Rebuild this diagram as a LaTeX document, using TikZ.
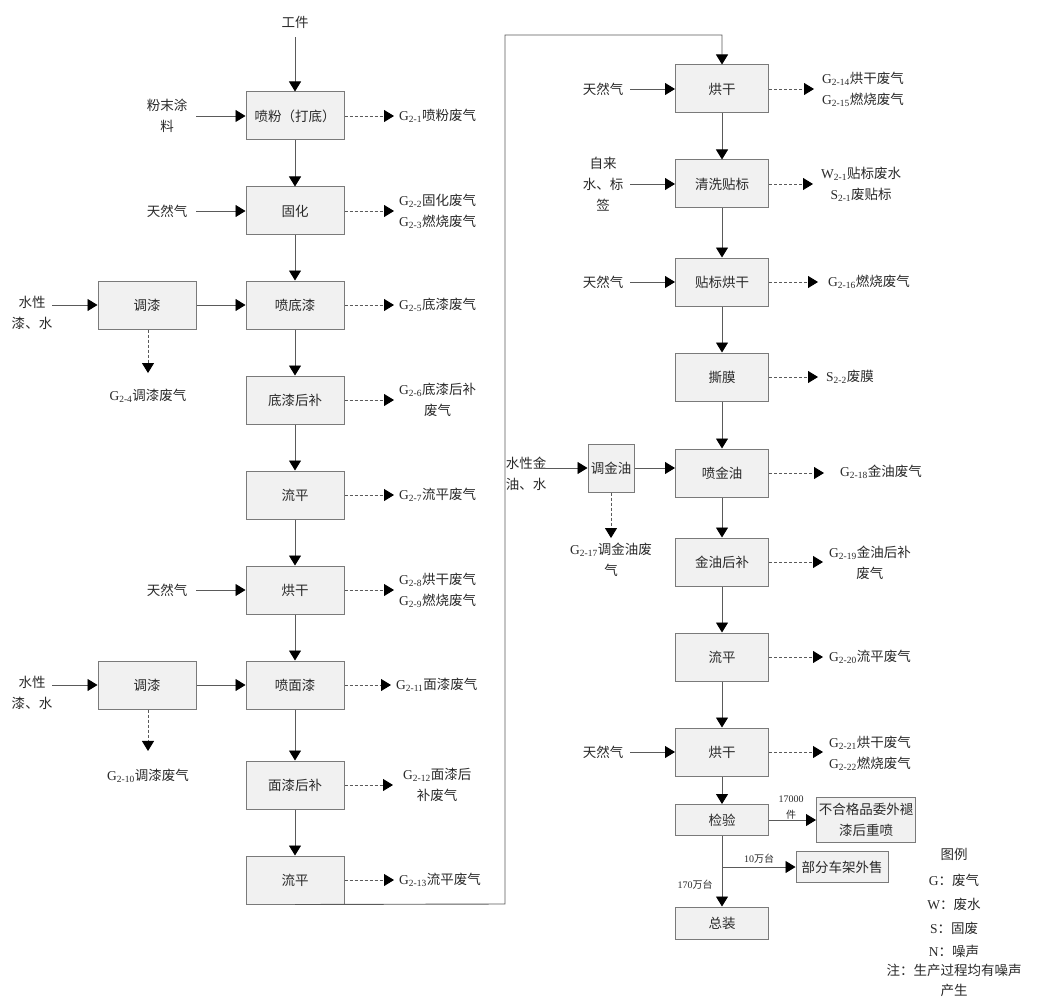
\documentclass[tikz,border=0pt]{standalone}
\usepackage{fontspec}
\setmainfont{Liberation Serif}
\newfontfamily\cjk{Noto Sans CJK SC}
\usetikzlibrary{arrows.meta}
\definecolor{boxfill}{HTML}{F1F1F1}
\definecolor{boxline}{HTML}{7A7A7A}
\definecolor{lin}{HTML}{5A5A5A}
\definecolor{txt}{HTML}{2A2A2A}
\newcommand\pol[2]{{\rmfamily #1\textsubscript{#2}}}
\begin{document}
\begin{tikzpicture}[x=1pt,y=-1pt,
 every node/.style={font=\fontsize{13.5}{21}\selectfont\cjk, text=txt},
 box/.style={draw=boxline, fill=boxfill, line width=1pt, minimum width=98pt, minimum height=48pt, inner sep=0pt, align=center},
 rbox/.style={box, minimum width=93pt},
 lbl/.style={inner sep=0pt, align=center},
 small/.style={lbl, font=\fontsize{10}{16}\selectfont\cjk},
 flow/.style={draw=lin, line width=0.9pt, -{Triangle[length=10pt,width=12pt,color=black]}},
 inflow/.style={flow, shorten <=9pt},
 dflow/.style={flow, dash pattern=on 3pt off 2pt, shorten >=5pt},
]
\useasboundingbox[fill=white] (0,0) rectangle (1059,1000);

% ---------- left column ----------
\node[lbl] (wp) at (295,22) {工件};
\node[box] (n1) at (295,116) {喷粉（打底）};
\node[box] (n2) at (295,211) {固化};
\node[box] (n3) at (295,305) {喷底漆};
\node[box] (n4) at (295,400) {底漆后补};
\node[box] (n5) at (295,495) {流平};
\node[box] (n6) at (295,590) {烘干};
\node[box] (n7) at (295,685) {喷面漆};
\node[box] (n8) at (295,785) {面漆后补};
\node[box] (n9) at (295,880) {流平};

\draw[flow, shorten <=9pt] (wp) -- (n1);
\foreach \a/\b in {n1/n2,n2/n3,n3/n4,n4/n5,n5/n6,n6/n7,n7/n8,n8/n9}
  \draw[flow] (\a) -- (\b);

% inputs left
\node[lbl] (i1) at (167,116) {粉末涂\\料};
\node[lbl] (i2) at (167,211) {天然气};
\node[lbl] (i3) at (32,313) {水性\\漆、水};
\node[box] (t1) at (147,305) {调漆};
\node[lbl] (g4) at (148,396) {\pol{G}{2-4}调漆废气};
\node[lbl] (i4) at (167,590) {天然气};
\node[lbl] (i5) at (32,693) {水性\\漆、水};
\node[box] (t2) at (147,685) {调漆};
\node[lbl] (g10) at (148,776) {\pol{G}{2-10}调漆废气};

\draw[inflow] (i1) -- (n1);
\draw[inflow] (i2) -- (n2);
\draw[flow] (i3.east |- t1) -- (t1);
\draw[flow] (t1) -- (n3);
\draw[dflow, shorten >=16pt] (t1.south -| g4) -- (g4);
\draw[inflow] (i4) -- (n6);
\draw[flow] (i5.east |- t2) -- (t2);
\draw[flow] (t2) -- (n7);
\draw[dflow, shorten >=18pt] (t2.south -| g10) -- (g10);

% outputs left
\node[lbl, anchor=west] (o1) at (399,116) {\pol{G}{2-1}喷粉废气};
\node[lbl, anchor=west] (o2) at (399,211) {\pol{G}{2-2}固化废气\\\pol{G}{2-3}燃烧废气};
\node[lbl, anchor=west] (o3) at (399,305) {\pol{G}{2-5}底漆废气};
\node[lbl, anchor=west] (o4) at (399,400) {\pol{G}{2-6}底漆后补\\废气};
\node[lbl, anchor=west] (o5) at (399,495) {\pol{G}{2-7}流平废气};
\node[lbl, anchor=west] (o6) at (399,590) {\pol{G}{2-8}烘干废气\\\pol{G}{2-9}燃烧废气};
\node[lbl, anchor=west] (o7) at (396,685) {\pol{G}{2-11}面漆废气};
\node[lbl, anchor=west] (o8) at (403,785) {\pol{G}{2-12}面漆后\\补废气};
\node[lbl, anchor=west] (o9) at (399,880) {\pol{G}{2-13}流平废气};
\foreach \a/\b in {n1/o1,n2/o2,n3/o3,n4/o4,n5/o5,n6/o6,n7/o7,n9/o9}
  \draw[dflow] (\a) -- (\b);
\draw[dflow, shorten >=10pt] (n8) -- (o8);

% ---------- loop ----------
\coordinate (lpA) at (505,904);
\coordinate (lpB) at (505,35);

% ---------- right column ----------
\node[rbox] (r1) at (722,89) {烘干};
\node[rbox] (r2) at (722,184) {清洗贴标};
\node[rbox] (r3) at (722,282) {贴标烘干};
\node[rbox] (r4) at (722,377) {撕膜};
\node[rbox] (r5) at (722,473) {喷金油};
\node[rbox] (r6) at (722,562) {金油后补};
\node[rbox] (r7) at (722,657) {流平};
\node[rbox] (r8) at (722,752) {烘干};
\node[rbox, minimum height=31pt] (r9) at (722,820) {检验};
\node[rbox, minimum height=32pt] (r10) at (722,923) {总装};

\draw[flow] (n9.south) -- (lpA) -- (lpB) -| (r1.north);
\foreach \a/\b in {r1/r2,r2/r3,r3/r4,r4/r5,r5/r6,r6/r7,r7/r8,r8/r9,r9/r10}
  \draw[flow] (\a) -- (\b);

% inputs right
\node[lbl] (j1) at (603,89) {天然气};
\node[lbl] (j2) at (603,184) {自来\\水、标\\签};
\node[lbl] (j3) at (603,282) {天然气};
\node[lbl] (j8) at (603,752) {天然气};
\draw[flow, shorten <=7pt] (j1) -- (r1);
\draw[flow, shorten <=7pt] (j2) -- (r2);
\draw[flow, shorten <=7pt] (j3) -- (r3);
\draw[flow, shorten <=7pt] (j8) -- (r8);

\node[lbl] (jin) at (526,474) {水性金\\油、水};
\node[box, minimum width=46pt] (tj) at (611,468) {调金油};
\node[lbl] (g17) at (611,560) {\pol{G}{2-17}调金油废\\气};
\draw[flow, shorten <=-6pt] (jin.east |- tj) -- (tj);
\draw[flow] (tj) -- (tj -| r5.west);
\draw[dflow, shorten >=5pt] (tj) -- (g17);

% outputs right
\node[lbl, anchor=west] (p1) at (822,89) {\pol{G}{2-14}烘干废气\\\pol{G}{2-15}燃烧废气};
\node[lbl, anchor=west] (p2) at (821,184) {\pol{W}{2-1}贴标废水\\\pol{S}{2-1}废贴标};
\node[lbl, anchor=west] (p3) at (828,282) {\pol{G}{2-16}燃烧废气};
\node[lbl, anchor=west] (p4) at (826,377) {\pol{S}{2-2}废膜};
\node[lbl, anchor=west] (p5) at (840,472) {\pol{G}{2-18}金油废气};
\node[lbl, anchor=west] (p6) at (829,563) {\pol{G}{2-19}金油后补\\废气};
\node[lbl, anchor=west] (p7) at (829,657) {\pol{G}{2-20}流平废气};
\node[lbl, anchor=west] (p8) at (829,753) {\pol{G}{2-21}烘干废气\\\pol{G}{2-22}燃烧废气};
\draw[dflow, shorten >=8pt] (r1) -- (r1 -| p1.west);
\draw[dflow, shorten >=8pt] (r2) -- (r2 -| p2.west);
\draw[dflow, shorten >=10pt] (r3) -- (p3);
\draw[dflow, shorten >=8pt] (r4) -- (r4 -| p4.west);
\draw[dflow, shorten >=16pt] (r5) -- (r5 -| p5.west);
\draw[dflow, shorten >=6pt] (r6) -- (r6 -| p6.west);
\draw[dflow, shorten >=6pt] (r7) -- (r7 -| p7.west);
\draw[dflow, shorten >=6pt] (r8) -- (r8 -| p8.west);

% ---------- inspection branches ----------
\node[box, minimum width=99pt, minimum height=45pt] (nb) at (866,820) {不合格品委外褪\\漆后重喷};
\draw[flow] (r9) -- (nb);
\node[small] (l17) at (791,808) {{\rmfamily 17000}\\件};
\coordinate (br) at (722,867);
\node[box, minimum width=92pt, minimum height=31pt] (sale) at (842,867) {部分车架外售};
\draw[flow] (br) -- (sale);
\node[small] (l10) at (759,859) {{\rmfamily 10}万台};
\node[small] (l170) at (695,885) {{\rmfamily 170}万台};

% ---------- legend ----------
\node[lbl] (lg0) at (954,854) {图例};
\node[lbl] (lg1) at (954,880) {{\rmfamily G}：废气};
\node[lbl] (lg2) at (954,904) {{\rmfamily W}：废水};
\node[lbl] (lg3) at (954,928) {{\rmfamily S}：固废};
\node[lbl] (lg4) at (954,951) {{\rmfamily N}：噪声};
\node[lbl] (lg5) at (954,970) {注：生产过程均有噪声};
\node[lbl] (lg6) at (954,990) {产生};
\end{tikzpicture}
\end{document}
